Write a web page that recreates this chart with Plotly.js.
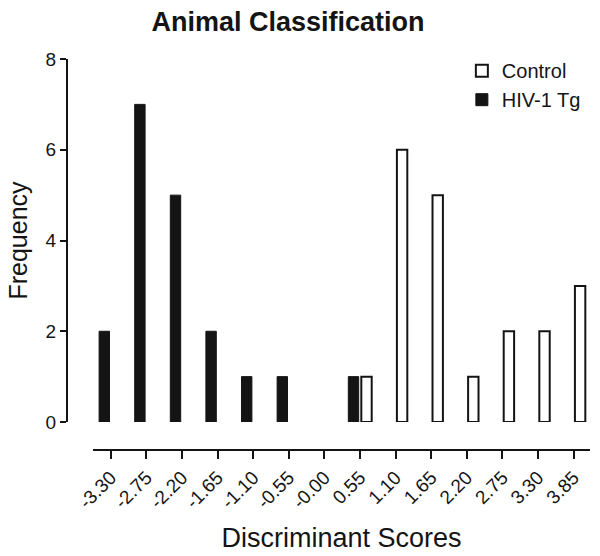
<!DOCTYPE html>
<html>
<head>
<meta charset="utf-8">
<script src="https://cdn.plot.ly/plotly-3.0.1.min.js"></script>
<style>html,body{margin:0;padding:0;background:#fff;}#chart{width:600px;height:556px;}</style>
</head>
<body>
<div id="chart"></div>
<script>
const categories = ["-3.30","-2.75","-2.20","-1.65","-1.10","-0.55","-0.00","0.55","1.10","1.65","2.20","2.75","3.30","3.85"];
const hivValues = [2,7,5,2,1,1,null,1,null,null,null,null,null,null];
const controlValues = [null,null,null,null,null,null,null,1,6,5,1,2,2,3];
const tickLabels = categories;

const FONT = "Arial, 'Liberation Sans', sans-serif";

const traces = [
  {
    type: "bar", name: "HIV-1 Tg", x: categories, y: hivValues,
    marker: {color: "#141414", line: {color: "#141414", width: 1}},
    legendrank: 2
  },
  {
    type: "bar", name: "Control", x: categories, y: controlValues,
    marker: {color: "#ffffff", line: {color: "#141414", width: 2}},
    legendrank: 1
  }
];

const layout = {
  width: 600, height: 556,
  paper_bgcolor: "#fff", plot_bgcolor: "#fff",
  font: {family: FONT, color: "#141414"},
  margin: {l: 67, r: 10, t: 59, b: 106},
  barmode: "group", bargap: 0.27, bargroupgap: 0.2,
  showlegend: true,
  legend: {
    x: 0.755, y: 1.02, xanchor: "left", yanchor: "top",
    font: {size: 20, family: FONT, color: "#141414"},
    traceorder: "normal",
    bgcolor: "rgba(0,0,0,0)"
  },
  title: {
    text: "<b>Animal Classification</b>",
    font: {size: 27, family: FONT, color: "#141414"},
    xref: "container", x: 0.48, xanchor: "center",
    yref: "container", y: 0.962, yanchor: "middle"
  },
  xaxis: {
    type: "category", domain: [0.0497, 1],
    anchor: "free", position: 0,
    range: [-0.5, 13.46],
    tickvals: categories, ticktext: tickLabels,
    tickangle: -45, tickfont: {size: 19, family: FONT, color: "#141414"},
    ticks: "outside", ticklen: 8, tickwidth: 2, tickcolor: "#141414",
    showline: true, linecolor: "#141414", linewidth: 2,
    showgrid: false, zeroline: false,
    title: {text: "Discriminant Scores", font: {size: 27, family: FONT, color: "#141414"}, standoff: 16}
  },
  yaxis: {
    domain: [0.0716, 1],
    anchor: "free", position: 0,
    range: [0, 8], tickvals: [0,2,4,6,8],
    tickfont: {size: 19, family: FONT, color: "#141414"},
    ticks: "outside", ticklen: 6, tickwidth: 2, tickcolor: "#141414",
    showline: true, linecolor: "#141414", linewidth: 2,
    showgrid: false, zeroline: false,
    title: {text: "Frequency", font: {size: 25, family: FONT, color: "#141414"}, standoff: 10}
  }
};

Plotly.newPlot("chart", traces, layout, {displayModeBar: false, staticPlot: true});
</script>
</body>
</html>
